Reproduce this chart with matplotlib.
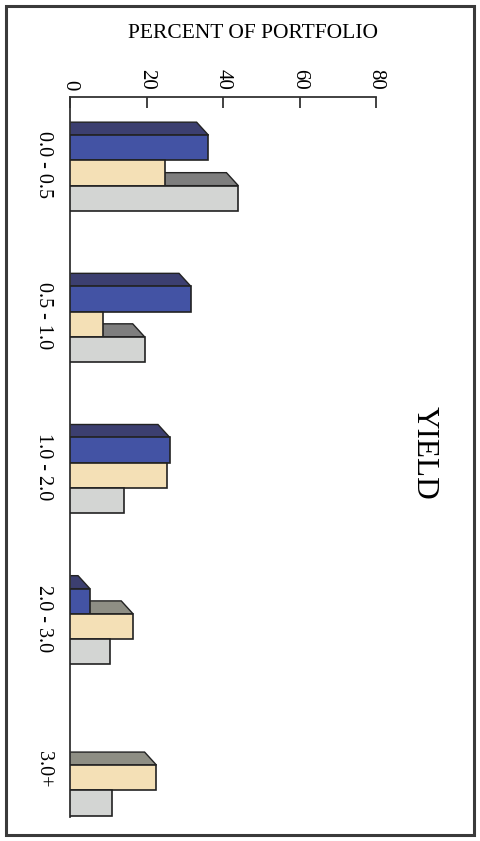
import numpy as np
import matplotlib.pyplot as plt
from matplotlib.patches import Rectangle

plt.rcParams['font.family'] = ['Liberation Serif', 'DejaVu Serif']

categories = ["0.0 - 0.5", "0.5 - 1.0", "1.0 - 2.0", "2.0 - 3.0", "3.0+"]
blue_vals = [36.2, 31.6, 26.1, 5.2, 0.0]
tan_vals = [24.8, 8.5, 25.4, 16.5, 22.6]
gray_vals = [44.0, 19.5, 14.0, 10.4, 11.0]
xticks = [0, 20, 40, 60, 80]

series = [
    (blue_vals, "#4353a4", "#3c3f70"),
    (tan_vals, "#f4e0b6", "#8e8e84"),
    (gray_vals, "#d3d5d3", "#7e7e7e"),
]

fig = plt.figure(figsize=(4.8, 8.41), dpi=100)
ax = fig.add_axes([70 / 480, 1 - 817 / 841, 306 / 480, 720 / 841])

pos = np.arange(len(categories))
h = 0.167
dx, dy = 3.1, 0.086   # depth of the 3d top face

for k, (vals, front, top) in enumerate(series):
    ys = pos + (k - 1) * h
    for y, v in zip(ys, vals):
        if v <= 0:
            continue
        ax.barh(y, v, height=h, color=front, edgecolor="#222222",
                linewidth=1.2, zorder=3)
        yt = y - h / 2
        ax.fill([0, v, max(v - dx, 0), 0], [yt, yt, yt - dy, yt - dy],
                color=top, edgecolor="#222222", linewidth=1.0, zorder=2)

ax.set_xlim(0, 80)
ax.set_ylim(4.26, -0.503)

ax.xaxis.tick_top()
ax.set_xticks(xticks)
ax.set_xticklabels([str(t) for t in xticks], rotation=-90, fontsize=15)
ax.tick_params(axis="x", direction="in", length=8, width=1.3,
               color="#333333", pad=5)

ax.set_yticks(pos - 0.055)
ax.set_yticklabels(categories, rotation=-90, fontsize=14.5, va="center")
ax.tick_params(axis="y", length=0, pad=12)

for s in ["right", "bottom"]:
    ax.spines[s].set_visible(False)
for s in ["top", "left"]:
    ax.spines[s].set_color("#333333")
    ax.spines[s].set_linewidth(1.3)

fig.text(253 / 480, 1 - 33 / 841, "PERCENT OF PORTFOLIO", ha="center",
         va="center", fontsize=15.5)
fig.text(424 / 480, 1 - 453 / 841, "YIELD", rotation=-90, ha="center",
         va="center", fontsize=22.5)

fig.patches.append(Rectangle((6 / 480, 6 / 841), 468 / 480, 829 / 841,
                             transform=fig.transFigure, fill=False,
                             edgecolor="#3a3a3a", linewidth=2.2))

fig.savefig("out.png", dpi=100)
